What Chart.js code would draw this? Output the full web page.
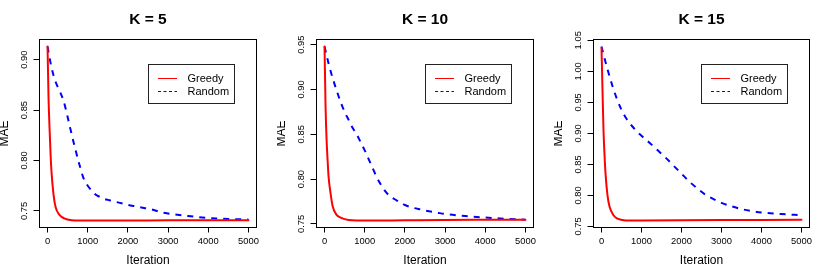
<!DOCTYPE html>
<html>
<head>
<meta charset="utf-8">
<script src="https://cdn.jsdelivr.net/npm/chart.js@4.4.1/dist/chart.umd.min.js"></script>
<style>
  body { margin: 0; background: #fff; width: 830px; height: 277px; position: relative; overflow: hidden; }
  canvas { position: absolute; top: 0; }
</style>
</head>
<body>
<canvas id="k5" width="277" height="277" style="left:0px"></canvas>
<canvas id="k10" width="277" height="277" style="left:277px"></canvas>
<canvas id="k15" width="276" height="277" style="left:554px"></canvas>
<script>
const titles = ["K = 5", "K = 10", "K = 15"];
const seriesNames = ["Greedy", "Random"];

const greedyIter = [0, 25, 50, 75, 100, 150, 200, 300, 400, 600, 800, 1000, 2000, 3000, 4000, 5000];
const randomIter = [0, 100, 200, 300, 400, 500, 600, 700, 800, 900, 1000, 1100, 1200, 1300, 1400, 1500, 1600,
                    1800, 2000, 2200, 2400, 2600, 2800, 3000, 3500, 4000, 4500, 5000];

const greedyK5 = [0.913, 0.862, 0.832, 0.807, 0.788, 0.766, 0.754, 0.746, 0.743, 0.7408, 0.7405, 0.7405, 0.7406, 0.7407, 0.7408, 0.7408];
const randomK5 = [0.913, 0.892, 0.878, 0.869, 0.859, 0.843, 0.826, 0.810, 0.795, 0.782, 0.775, 0.770, 0.766, 0.764, 0.762, 0.761, 0.760,
                  0.758, 0.756, 0.7545, 0.753, 0.7515, 0.749, 0.7475, 0.745, 0.743, 0.742, 0.7415];

const greedyK10 = [0.948, 0.882, 0.845, 0.822, 0.803, 0.784, 0.770, 0.760, 0.757, 0.7542, 0.7537, 0.7537, 0.754, 0.7543, 0.7545, 0.7547];
const randomK10 = [0.948, 0.929, 0.913, 0.899, 0.886, 0.875, 0.866, 0.857, 0.850, 0.841, 0.832, 0.822, 0.812, 0.802, 0.794, 0.787, 0.782,
                   0.776, 0.771, 0.768, 0.766, 0.764, 0.7625, 0.761, 0.7588, 0.757, 0.7557, 0.7545];

const greedyK15 = [1.038, 0.970, 0.905, 0.866, 0.836, 0.800, 0.782, 0.768, 0.7625, 0.7597, 0.7595, 0.7596, 0.760, 0.7603, 0.7605, 0.7606];
const randomK15 = [1.040, 1.015, 0.992, 0.971, 0.953, 0.938, 0.926, 0.917, 0.909, 0.902, 0.896, 0.890, 0.885, 0.879, 0.873, 0.867, 0.861,
                   0.848, 0.835, 0.822, 0.811, 0.801, 0.794, 0.788, 0.778, 0.7725, 0.770, 0.768];

const xTicks = [0, 1000, 2000, 3000, 4000, 5000];
const yTicksK5 = [0.75, 0.80, 0.85, 0.90];
const yTicksK10 = [0.75, 0.80, 0.85, 0.90, 0.95];
const yTicksK15 = [0.75, 0.80, 0.85, 0.90, 0.95, 1.00, 1.05];

Chart.defaults.font.family = "'Liberation Sans', Arial, Helvetica, sans-serif";
Chart.defaults.color = "#000";

// box around the plot region + legend in the top right corner
const frame = {
    id: "frame",
    afterDatasetsDraw(chart) {
        const a = chart.chartArea;
        const ctx = chart.ctx;
        ctx.save();
        ctx.setLineDash([]);
        ctx.strokeStyle = "#000";
        ctx.lineWidth = 1;
        ctx.strokeRect(a.left, a.top, a.right - a.left, a.bottom - a.top);

        const lx = Math.round(a.right - 109) + 0.5;
        const ly = Math.round(a.top + 24) + 0.5;
        ctx.strokeStyle = "#222";
        ctx.strokeRect(lx, ly, 86, 39);
        ctx.font = "11px 'Liberation Sans', Arial, sans-serif";
        ctx.textBaseline = "middle";
        ctx.textAlign = "left";
        ctx.fillStyle = "#000";
        chart.data.datasets.forEach(function (ds, i) {
            const y = Math.round(ly + 13 + i * 13) + 0.5;
            ctx.strokeStyle = ds.borderColor;
            ctx.lineWidth = 1;
            ctx.setLineDash(i ? [3, 2.5] : []);
            ctx.beginPath();
            ctx.moveTo(lx + 9.5, y);
            ctx.lineTo(lx + 28.5, y);
            ctx.stroke();
            ctx.fillText(ds.label, lx + 39, y);
        });
        ctx.restore();
    }
};

function drawPanel(id, title, greedy, random, yTicks) {
    const all = greedy.concat(random);
    const lo = Math.min(...all);
    const hi = Math.max(...all);
    const pad = (hi - lo) * 0.04;
    const xLo = randomIter[0];
    const xHi = randomIter[randomIter.length - 1];
    const xPad = (xHi - xLo) * 0.04;

    return new Chart(document.getElementById(id), {
        type: "line",
        data: {
            datasets: [
                {
                    label: seriesNames[0],
                    data: greedyIter.map((x, i) => ({ x: x, y: greedy[i] })),
                    borderColor: "#ff0000",
                    borderWidth: 2,
                    borderCapStyle: "round",
                    borderJoinStyle: "round",
                    pointRadius: 0,
                    cubicInterpolationMode: "monotone"
                },
                {
                    label: seriesNames[1],
                    data: randomIter.map((x, i) => ({ x: x, y: random[i] })),
                    borderColor: "#0000ff",
                    borderWidth: 2,
                    borderDash: [6, 6],
                    pointRadius: 0,
                    cubicInterpolationMode: "monotone"
                }
            ]
        },
        options: {
            responsive: false,
            animation: false,
            devicePixelRatio: 1,
            layout: { padding: { left: 0, right: 20.5, top: 0, bottom: 0 } },
            plugins: {
                legend: { display: false },
                tooltip: { enabled: false },
                title: {
                    display: true,
                    text: title,
                    fullSize: false,
                    color: "#000",
                    font: { size: 15.5, weight: "bold" },
                    padding: { top: 10.9, bottom: 10 }
                }
            },
            scales: {
                x: {
                    type: "linear",
                    min: xLo - xPad,
                    max: xHi + xPad,
                    afterBuildTicks: s => { s.ticks = xTicks.map(v => ({ value: v })); },
                    afterFit: s => { s.height = 49.5; },
                    grid: { drawOnChartArea: false, tickLength: 5, color: "#000" },
                    border: { display: false },
                    ticks: { font: { size: 9.4 }, padding: 3.7, maxRotation: 0, autoSkip: false, callback: v => String(v) },
                    title: { display: true, text: "Iteration", font: { size: 12 }, padding: { top: 0, bottom: 8.8 } }
                },
                y: {
                    type: "linear",
                    min: lo - pad,
                    max: hi + pad,
                    afterBuildTicks: s => { s.ticks = yTicks.map(v => ({ value: v })); },
                    afterFit: s => { s.width = 39.5; },
                    grid: { drawOnChartArea: false, tickLength: 6, color: "#000" },
                    border: { display: false },
                    ticks: {
                        font: { size: 9.4 },
                        minRotation: 90,
                        maxRotation: 90,
                        crossAlign: "center",
                        padding: 0,
                        autoSkip: false,
                        callback: v => Number(v).toFixed(2)
                    },
                    title: { display: true, text: "MAE", font: { size: 12, lineHeight: 0.84 }, padding: 0 }
                }
            }
        },
        plugins: [frame]
    });
}

drawPanel("k5", titles[0], greedyK5, randomK5, yTicksK5);
drawPanel("k10", titles[1], greedyK10, randomK10, yTicksK10);
drawPanel("k15", titles[2], greedyK15, randomK15, yTicksK15);
</script>
</body>
</html>
